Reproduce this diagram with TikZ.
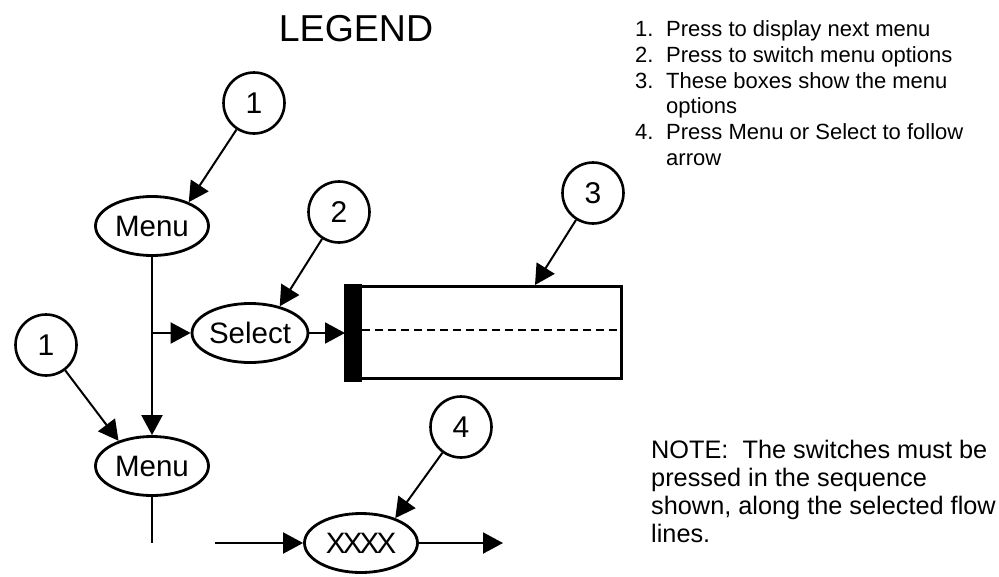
\documentclass[tikz,border=0pt]{standalone}
\usepackage{fontspec}
\setmainfont{Liberation Sans}
\usetikzlibrary{shapes.geometric,arrows.meta,calc}

\begin{document}
\begin{tikzpicture}[x=1pt,y=-1pt,
  callout/.style={circle,draw,line width=2.6pt,minimum size=61pt,inner sep=0pt,
    font=\fontsize{30}{30}\selectfont},
  switch/.style={ellipse,draw,line width=2.8pt,minimum width=113pt,minimum height=59pt,
    inner sep=0pt,font=\fontsize{29.5}{30}\selectfont},
  flow/.style={line width=2pt,-{Triangle[length=20pt,width=21pt]}},
  plain/.style={line width=2pt},
  listtxt/.style={anchor=base west,inner sep=0pt,font=\fontsize{22}{22}\selectfont},
  notetxt/.style={anchor=base west,inner sep=0pt,font=\fontsize{25.3}{25}\selectfont}]

\useasboundingbox (0,0) rectangle (999,576);

% title
\node[inner sep=0pt,font=\fontsize{37.5}{38}\selectfont] (title) at (356,29) {LEGEND};

% callout circles
\node[callout] (c1)  at (254,103) {1};
\node[callout] (c2)  at (339,212) {2};
\node[callout] (c3)  at (593,193) {3};
\node[callout] (c1b) at (46,345)  {1};
\node[callout] (c4)  at (461,427) {4};

% switches
\node[switch] (menuA) at (152,226) {Menu};
\node[switch] (sel)   at (250,333) {Select};
\node[switch] (menuB) at (152,466) {Menu};
\node[switch] (xxxx)  at (361,543) {X\kern-2.8ptX\kern-2.8ptX\kern-2.8ptX};

% menu option box
\node[draw,line width=3pt,minimum width=275pt,minimum height=92pt,inner sep=0pt,
  anchor=north west] (opts) at (345,285) {};
\fill ($(opts.north west)+(-1.5,-1.5)$) rectangle ($(opts.south west)+(17,1.5)$);
\coordinate (dashL) at ($(opts.west)+(17,-3)$);
\coordinate (dashR) at ($(opts.east)+(0,-3)$);
\draw[line width=2pt,dash pattern=on 8pt off 5pt] (dashL) -- (dashR);

% flow lines
\coordinate (branch) at (menuA |- sel);
\draw[plain] (menuA) -- (branch);
\draw[flow] (branch) -- (menuB);
\draw[flow] (branch) -- (sel);
\draw[flow] (sel) -- (opts.west |- sel);

\coordinate (tail) at (152,543);
\draw[plain] (menuB) -- (tail);

\coordinate (inflow) at (215,543);
\coordinate (outflow) at (503,543);
\draw[flow] (inflow) -- (xxxx);
\draw[flow] (xxxx) -- (outflow);

% callout pointers
\coordinate (t3) at (535,285);
\draw[flow] (c1) -- (menuA.33);
\draw[flow] (c2) -- (sel.42);
\draw[flow] (c1b) -- (menuB.143);
\draw[flow] (c4) -- (xxxx.36);
\draw[flow] (c3) -- (t3);

% key
\node[listtxt] (k1)  at (635,36.7)  {1.};
\node[listtxt] (k1t) at (666,36.7)  {Press to display next menu};
\node[listtxt] (k2)  at (635,62.4)  {2.};
\node[listtxt] (k2t) at (666,62.4)  {Press to switch menu options};
\node[listtxt] (k3)  at (635,88.1)  {3.};
\node[listtxt] (k3t) at (666,88.1)  {These boxes show the menu};
\node[listtxt] (k3u) at (666,113.8) {options};
\node[listtxt] (k4)  at (635,139.5) {4.};
\node[listtxt] (k4t) at (666,139.5) {Press Menu or Select to follow};
\node[listtxt] (k4u) at (666,165.2) {arrow};

% note
\node[notetxt] (n1) at (651,458) {NOTE:\ \ The switches must be};
\node[notetxt] (n2) at (651,486) {pressed in the sequence};
\node[notetxt] (n3) at (651,514) {shown, along the selected flow};
\node[notetxt] (n4) at (651,542) {lines.};
\end{tikzpicture}
\end{document}
